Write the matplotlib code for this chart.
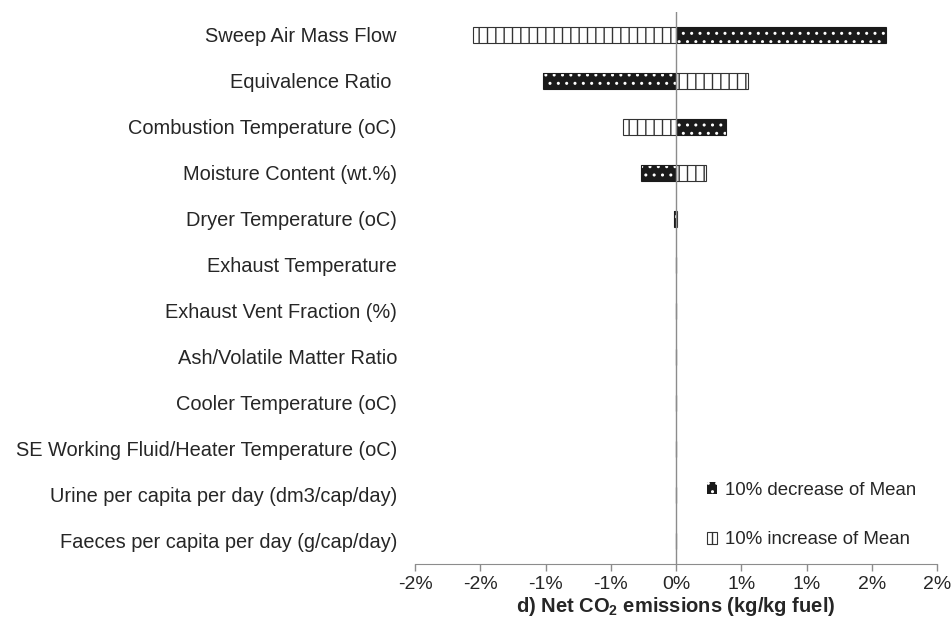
import matplotlib
matplotlib.use("Agg")
import matplotlib.pyplot as plt
from matplotlib.patches import Patch

plt.rcParams['font.family'] = ['Liberation Sans', 'DejaVu Sans']
plt.rcParams['mathtext.fontset'] = 'custom'
plt.rcParams['mathtext.rm'] = 'Liberation Sans'
plt.rcParams['mathtext.bf'] = 'Liberation Sans:bold'
plt.rcParams['hatch.linewidth'] = 1.0

categories = [
    "Sweep Air Mass Flow",
    "Equivalence Ratio ",
    "Combustion Temperature (oC)",
    "Moisture Content (wt.%)",
    "Dryer Temperature (oC)",
    "Exhaust Temperature",
    "Exhaust Vent Fraction (%)",
    "Ash/Volatile Matter Ratio",
    "Cooler Temperature (oC)",
    "SE Working Fluid/Heater Temperature (oC)",
    "Urine per capita per day (dm3/cap/day)",
    "Faeces per capita per day (g/cap/day)",
]
# percent change in net CO2 emissions
decrease = [1.607, -1.019, 0.381, -0.265, -0.015, 0, 0, 0, 0, 0, 0, 0]
increase = [-1.556, 0.552, -0.406, 0.233, 0.008, 0, 0, 0, 0, 0, 0, 0]
xticks = [-2.0, -1.5, -1.0, -0.5, 0.0, 0.5, 1.0, 1.5, 2.0]
xticklabels = ['-2%', '-2%', '-1%', '-1%', '0%', '1%', '1%', '2%', '2%']
legend_labels = ['10% decrease of Mean', '10% increase of Mean']

fig = plt.figure(figsize=(9.51, 6.17), dpi=100)
ax = fig.add_axes([0.4364, 0.0859, 0.5489, 0.8947])

y = list(range(len(categories)))
h = 0.34
ax.barh(y, decrease, height=h, color='#1a1a1a', edgecolor='white', linewidth=0, hatch='..', zorder=2)
ax.barh(y, decrease, height=h, facecolor='none', edgecolor='#1a1a1a', linewidth=0.8, zorder=3)
ax.barh(y, increase, height=h, color='white', edgecolor='#333333', linewidth=0.8, hatch='||', zorder=2)

ax.axvline(0, color='#8c8c8c', lw=1.0, zorder=4)
ax.set_xlim(-2.0, 2.0)
ax.set_ylim(len(categories) - 0.5, -0.5)
ax.set_yticks(y)
ax.set_yticklabels(categories)
ax.set_xticks(xticks)
ax.set_xticklabels(xticklabels)

for s in ['top', 'right', 'left']:
    ax.spines[s].set_visible(False)
ax.spines['bottom'].set_color('#8c8c8c')
ax.tick_params(axis='y', length=0, pad=13, labelsize=14.4, labelcolor='#262626')
ax.tick_params(axis='x', direction='out', length=5, width=1, color='#8c8c8c', pad=4,
               labelsize=14, labelcolor='#262626')

ax.set_xlabel(r"d) Net CO$_\mathbf{2}$ emissions (kg/kg fuel)", fontsize=14.5,
              fontweight='bold', color='#262626', labelpad=1)

handles = [Patch(facecolor='#1a1a1a', edgecolor='white', hatch='..', linewidth=0),
           Patch(facecolor='white', edgecolor='#333333', hatch='||', linewidth=0.8)]
fig.legend(handles, legend_labels, loc='center left', bbox_to_anchor=(0.734, 0.1653),
           frameon=False, fontsize=13.4, handlelength=0.5, handleheight=0.6,
           handletextpad=0.45, labelspacing=1.75, borderpad=0, labelcolor='#262626')

fig.savefig('out.png', dpi=100)
